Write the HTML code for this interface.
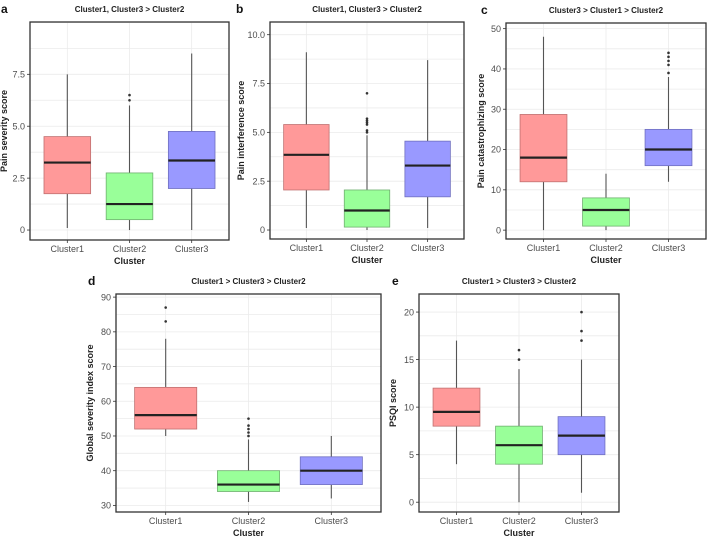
<!DOCTYPE html>
<html><head><meta charset="utf-8"><style>
html,body{margin:0;padding:0;background:#fff;}
svg{display:block;font-family:"Liberation Sans",Arial,sans-serif;}
</style></head><body>
<svg id="chart" width="709" height="540" viewBox="0 0 709 540"></svg>
<script>
const categories = ["Cluster1","Cluster2","Cluster3"];
// [min, q1, median, q3, max] per cluster
const panelAStats = [[0.1,1.75,3.25,4.5,7.5],[0,0.5,1.25,2.75,6.0],[0,2.0,3.35,4.75,8.5]];
const panelAOutliers = [[],[6.25,6.5],[]];
const panelATicks = [0,2.5,5.0,7.5];
const panelATickLabels = ["0","2.5","5.0","7.5"];
const panelBStats = [[0.1,2.05,3.85,5.4,9.1],[0,0.15,1.0,2.05,4.85],[0.1,1.7,3.3,4.55,8.7]];
const panelBOutliers = [[],[5.0,5.1,5.4,5.5,5.6,5.7,7.0],[]];
const panelBTicks = [0,2.5,5.0,7.5,10.0];
const panelBTickLabels = ["0","2.5","5.0","7.5","10.0"];
const panelCStats = [[0,12,18,28.7,48],[0,1,5,8,14],[12,16,20,25,38]];
const panelCOutliers = [[],[],[39,41,42,43,44]];
const panelCTicks = [0,10,20,30,40,50];
const panelCTickLabels = ["0","10","20","30","40","50"];
const panelDStats = [[50,52,56,64,78],[31,34,36,40,49],[32,36,40,44,50]];
const panelDOutliers = [[83,87],[50,51,52,53,55],[]];
const panelDTicks = [30,40,50,60,70,80,90];
const panelDTickLabels = ["30","40","50","60","70","80","90"];
const panelEStats = [[4,8,9.5,12,17],[0,4,6,8,14],[1,5,7,9,15]];
const panelEOutliers = [[],[15,16],[17,18,20]];
const panelETicks = [0,5,10,15,20];
const panelETickLabels = ["0","5","10","15","20"];

const NS="http://www.w3.org/2000/svg";
const svg=document.getElementById('chart');
const fills=["#ff9999","#99ff99","#9999ff"];
const strokes=["#c07070","#70b070","#7070c0"];
function mk(tag,attrs,parent,text){
  const e=document.createElementNS(NS,tag);
  for(const k in attrs)e.setAttribute(k,attrs[k]);
  if(text!==undefined)e.textContent=text;
  (parent||svg).appendChild(e);return e;
}
function panel(cfg){
  const g=mk('g',{});
  
  
  const {x0,x1,y0,y1,ymin,ymax}=cfg;
  const ys=v=>y1-(v-ymin)/(ymax-ymin)*(y1-y0);
  const spacing=(x1-x0)/3.2;
  const xs=i=>x0+spacing*(0.6+i);
  // grid
  const t=cfg.ticks;
  const step=t[1]-t[0];
  for(let v=t[0]-step/2;v<=ymax;v+=step/2){
    if(v<ymin)continue;
    const gl=mk('line',{x1:x0,x2:x1,y1:ys(v),y2:ys(v),stroke:'#ebebeb','stroke-width':0.8},g);
    
    
  }
  categories.forEach((c,i)=>{
    mk('line',{x1:xs(i),x2:xs(i),y1:y0,y2:y1,stroke:'#ebebeb','stroke-width':0.8},g);
  });
  // boxes
  const bw=spacing*0.75;
  cfg.stats.forEach((s,i)=>{
    const b=mk('g',{},g);
    
    
    const cx=xs(i);
    mk('line',{x1:cx,x2:cx,y1:ys(s[0]),y2:ys(s[4]),stroke:'#555','stroke-width':1.1},b);
    mk('rect',{x:cx-bw/2,y:ys(s[3]),width:bw,height:ys(s[1])-ys(s[3]),fill:fills[i],stroke:strokes[i],'stroke-width':0.8},b);
    mk('line',{x1:cx-bw/2,x2:cx+bw/2,y1:ys(s[2]),y2:ys(s[2]),stroke:'#222','stroke-width':2.2},b);
    cfg.out[i].forEach(v=>{
      const p=mk('circle',{cx:cx,cy:ys(v),r:1.3,fill:'#333'},b);
      
      
    });
  });
  // frame
  mk('rect',{x:x0,y:y0,width:x1-x0,height:y1-y0,fill:'none',stroke:'#333','stroke-width':1.3},g);
  // y ticks
  t.forEach((v,k)=>{
    mk('line',{x1:x0-3,x2:x0,y1:ys(v),y2:ys(v),stroke:'#333','stroke-width':0.8},g);
    const tl=mk('text',{x:x0-5,y:ys(v)+3.2,'text-anchor':'end','font-size':9,fill:'#4d4d4d'},g,cfg.labels[k]);
    
    
  });
  categories.forEach((c,i)=>{
    mk('line',{x1:xs(i),x2:xs(i),y1:y1,y2:y1+3,stroke:'#333','stroke-width':0.8},g);
    const xl=mk('text',{x:xs(i),y:y1+12,'text-anchor':'middle','font-size':9,fill:'#4d4d4d'},g,c);
    
    
  });
  const xt=mk('text',{x:(x0+x1)/2,y:y1+24,'text-anchor':'middle','font-size':9,'font-weight':'bold',fill:'#222'},g,'Cluster');
  
  
  const yt=mk('text',{x:0,y:0,'text-anchor':'middle','font-size':9,'font-weight':'bold',fill:'#222',transform:`translate(${cfg.ytx},${(y0+y1)/2}) rotate(-90)`},g,cfg.ytitle);
  
  
  const tt=mk('text',{x:(x0+x1)/2,y:y0-10,'text-anchor':'middle','font-size':8,'font-weight':'bold',fill:'#222'},g,cfg.title);
  
  
  const pl=mk('text',{x:cfg.lx,y:y0-9,'font-size':12,'font-weight':'bold',fill:'#111'},g,cfg.id);
  
  
}
panel({id:'a',x0:30,x1:229,y0:22,y1:240,ymin:-0.48,ymax:10.02,stats:panelAStats,out:panelAOutliers,ticks:panelATicks,labels:panelATickLabels,ytitle:'Pain severity score',ytx:7,title:'Cluster1, Cluster3 > Cluster2',lx:1});
panel({id:'b',x0:270,x1:464,y0:22,y1:239,ymin:-0.46,ymax:10.65,stats:panelBStats,out:panelBOutliers,ticks:panelBTicks,labels:panelBTickLabels,ytitle:'Pain interference score',ytx:244,title:'Cluster1, Cluster3 > Cluster2',lx:236});
panel({id:'c',x0:506,x1:706,y0:23,y1:239,ymin:-2.2,ymax:51.4,stats:panelCStats,out:panelCOutliers,ticks:panelCTicks,labels:panelCTickLabels,ytitle:'Pain catastrophizing score',ytx:484,title:'Cluster3 > Cluster1 > Cluster2',lx:481});
panel({id:'d',x0:116,x1:381,y0:294,y1:512,ymin:28.1,ymax:90.9,stats:panelDStats,out:panelDOutliers,ticks:panelDTicks,labels:panelDTickLabels,ytitle:'Global severity index score',ytx:93,title:'Cluster1 > Cluster3 > Cluster2',lx:88});
panel({id:'e',x0:419,x1:619,y0:294,y1:512,ymin:-1.03,ymax:21.9,stats:panelEStats,out:panelEOutliers,ticks:panelETicks,labels:panelETickLabels,ytitle:'PSQI score',ytx:396,title:'Cluster1 > Cluster3 > Cluster2',lx:392});
</script>
</body></html>
